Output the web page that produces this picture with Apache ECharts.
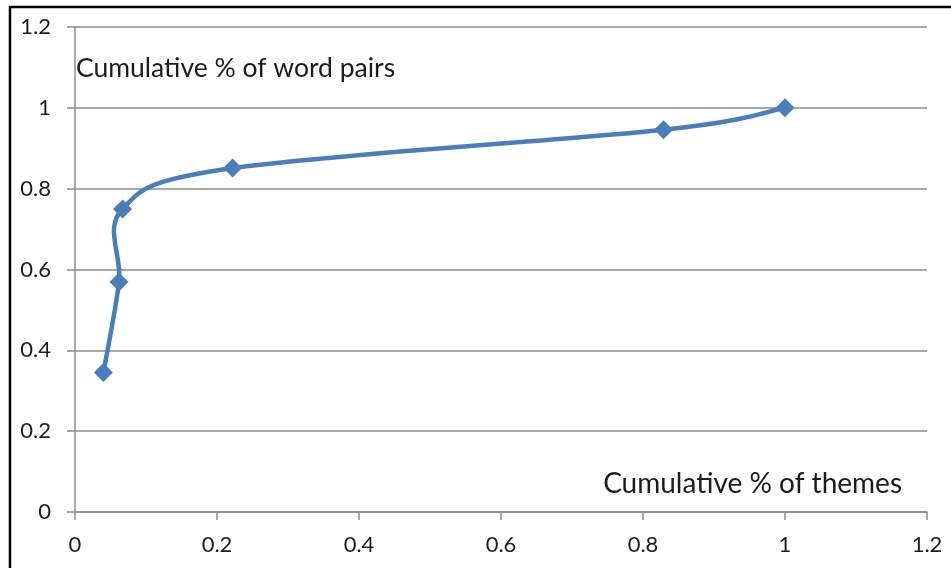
<!DOCTYPE html>
<html>
<head>
<meta charset="utf-8">
<script src="https://cdn.jsdelivr.net/npm/echarts@6/dist/echarts.min.js"></script>
<style>
  html, body { margin: 0; padding: 0; background: #fff; }
  #chart { width: 951px; height: 568px; }
</style>
</head>
<body>
<div id="chart"></div>
<script>
// Cumulative share of themes (x) against cumulative share of word pairs (y)
const themeShare = [0.04, 0.062, 0.067, 0.222, 0.829, 1.0];
const wordPairShare = [0.345, 0.569, 0.75, 0.851, 0.946, 1.0];

const xTicks = [0, 0.2, 0.4, 0.6, 0.8, 1, 1.2];
const yTicks = [0, 0.2, 0.4, 0.6, 0.8, 1, 1.2];

const yTitle = 'Cumulative % of word pairs';
const xTitle = 'Cumulative % of themes';

const points = themeShare.map((x, i) => [x, wordPairShare[i]]);

const FONT = 'Lato, "Open Sans", sans-serif';
const TEXT = '#1c1c1c';
const GRID = '#8c8c8c';
const BLUE = '#4a7ebb';

// Smoothed connector: cubic Bezier segments with Catmull-Rom style
// control points (tension 1/6), computed in pixel space from the axis scales.
function renderSmoothLine(params, api) {
  if (params.dataIndex !== 0) return null;
  const px = points.map(p => api.coord(p));
  const n = px.length;
  const at = i => px[Math.max(0, Math.min(n - 1, i))];
  const t = 1 / 6;
  const pathParts = ['M' + px[0][0] + ' ' + px[0][1]];
  for (let i = 0; i < n - 1; i++) {
    const p0 = at(i - 1), p1 = at(i), p2 = at(i + 1), p3 = at(i + 2);
    const c1 = [p1[0] + (p2[0] - p0[0]) * t, p1[1] + (p2[1] - p0[1]) * t];
    const c2 = [p2[0] - (p3[0] - p1[0]) * t, p2[1] - (p3[1] - p1[1]) * t];
    pathParts.push('C' + c1[0] + ' ' + c1[1] + ' ' + c2[0] + ' ' + c2[1] + ' ' + p2[0] + ' ' + p2[1]);
  }
  return {
    type: 'path',
    shape: { pathData: pathParts.join(' ') },
    style: { fill: 'none', stroke: BLUE, lineWidth: 4.5, lineJoin: 'round', lineCap: 'round' }
  };
}

const chart = echarts.init(document.getElementById('chart'), null, { renderer: 'canvas' });

const tickFmt = v => String(+v.toFixed(1));

chart.setOption({
  animation: false,
  backgroundColor: '#ffffff',
  grid: { left: 75, right: 24, top: 27, bottom: 56, containLabel: false },
  xAxis: {
    type: 'value',
    min: xTicks[0],
    max: xTicks[xTicks.length - 1],
    interval: 0.2,
    axisLine: { show: true, onZero: false, lineStyle: { color: GRID, width: 1.5 } },
    axisTick: { show: true, length: 8, lineStyle: { color: GRID, width: 1.5 } },
    axisLabel: { margin: 22, fontFamily: FONT, fontSize: 22, color: TEXT, formatter: tickFmt },
    splitLine: { show: false }
  },
  yAxis: {
    type: 'value',
    min: yTicks[0],
    max: yTicks[yTicks.length - 1],
    interval: 0.2,
    axisLine: { show: true, onZero: false, lineStyle: { color: GRID, width: 1.5 } },
    axisTick: { show: true, length: 8, lineStyle: { color: GRID, width: 1.5 } },
    axisLabel: { margin: 24, fontFamily: FONT, fontSize: 22, color: TEXT, formatter: tickFmt },
    splitLine: { show: true, lineStyle: { color: GRID, width: 1.5 } }
  },
  series: [
    {
      type: 'custom',
      coordinateSystem: 'cartesian2d',
      data: points,
      renderItem: renderSmoothLine,
      silent: true,
      z: 2
    },
    {
      type: 'scatter',
      data: points,
      symbol: 'diamond',
      symbolSize: 19,
      itemStyle: { color: BLUE, opacity: 1 },
      z: 3
    }
  ],
  graphic: [
    {
      type: 'rect',
      shape: { x: 10, y: 7, width: 1200, height: 1200 },
      style: { fill: 'none', stroke: '#000', lineWidth: 2.5 },
      silent: true, z: 10
    },
    {
      type: 'text',
      left: 76, top: 55,
      style: { text: yTitle, font: '26.5px ' + FONT, fill: TEXT }
    },
    {
      type: 'text',
      right: 49, top: 470,
      style: { text: xTitle, font: '28px ' + FONT, fill: TEXT }
    }
  ]
});
</script>
</body>
</html>
